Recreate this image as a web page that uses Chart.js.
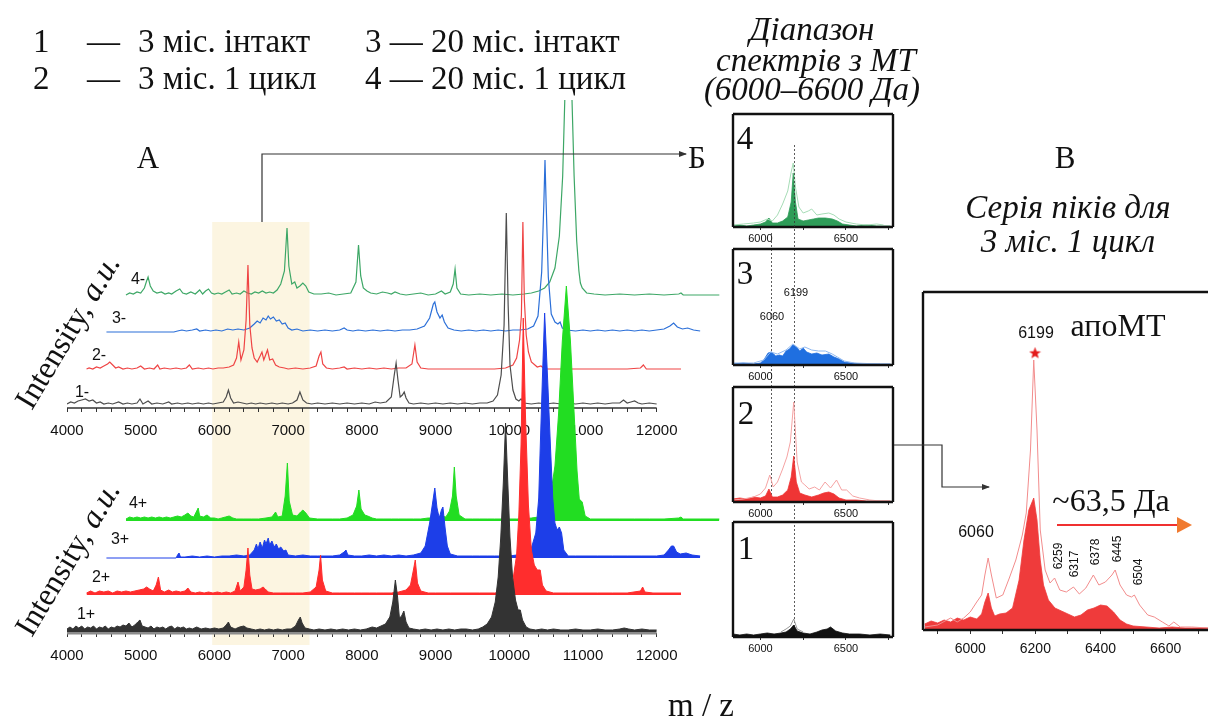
<!DOCTYPE html>
<html>
<head>
<meta charset="utf-8">
<script src="https://cdn.jsdelivr.net/npm/chart.js@4.4.1/dist/chart.umd.min.js"></script>
<style>
  body { margin: 0; width: 1208px; height: 718px; overflow: hidden; background: #fff; position: relative;
         font-family: 'Liberation Serif', 'Times New Roman', serif; color: #111; }
  canvas { position: absolute; left: 0; top: 0; }
  svg { position: absolute; left: 0; top: 0; }
  .c { position: absolute; white-space: nowrap; transform: translate(-50%, -50%); line-height: 1; }
  .l { position: absolute; white-space: nowrap; transform: translateY(-50%); line-height: 1; font-size: 33px; }
  .s { font-family: 'Liberation Sans', Arial, sans-serif; }
  .r { transform: translate(-50%, -50%) rotate(-90deg); }
  .it { font-style: italic; font-size: 33px; }
</style>
</head>
<body>
<canvas id="aMinus" width="1208" height="718"></canvas>
<canvas id="aPlus" width="1208" height="718"></canvas>
<canvas id="b4" width="1208" height="718"></canvas>
<canvas id="b3" width="1208" height="718"></canvas>
<canvas id="b2" width="1208" height="718"></canvas>
<canvas id="b1" width="1208" height="718"></canvas>
<canvas id="v" width="1208" height="718"></canvas>

<svg width="1208" height="718">
  <defs>
    <marker id="ah" markerWidth="8" markerHeight="6" refX="7" refY="3" orient="auto" markerUnits="userSpaceOnUse">
      <path d="M0,0 L8,3 L0,6 z" fill="#333"></path>
    </marker>
  </defs>
  <polyline points="262,222 262,154 686,154" fill="none" stroke="#333" stroke-width="1.2" marker-end="url(#ah)"></polyline>
  <polyline points="894,445 942,445 942,487 989,487" fill="none" stroke="#333" stroke-width="1.2" marker-end="url(#ah)"></polyline>
  <line x1="1057" y1="525" x2="1178" y2="525" stroke="#f03030" stroke-width="2"></line>
  <polygon points="1177,517 1192,525 1177,533" fill="#f07a30"></polygon>
</svg>

<!-- legend -->
<div class="l" style="left:33px;top:41px">1</div>
<div class="l" style="left:87px;top:41px">—</div>
<div class="l" style="left:138px;top:41px">3 міс. інтакт</div>
<div class="l" style="left:365px;top:41px">3 — 20 міс. інтакт</div>
<div class="l" style="left:33px;top:78px">2</div>
<div class="l" style="left:87px;top:78px">—</div>
<div class="l" style="left:138px;top:78px">3 міс. 1 цикл</div>
<div class="l" style="left:365px;top:78px">4 — 20 міс. 1 цикл</div>

<!-- panel A -->
<div class="c" style="left:148px;top:157px;font-size:31px">А</div>
<div class="c" style="left:697px;top:157px;font-size:31px">Б</div>
<div class="c" style="left:67px;top:331px;font-size:32px;transform:translate(-50%,-50%) rotate(-59deg)">Intensity, <i>a.u.</i></div>
<div class="c" style="left:67px;top:558px;font-size:32px;transform:translate(-50%,-50%) rotate(-59deg)">Intensity, <i>a.u.</i></div>
<div class="c s" style="left:138px;top:279px;font-size:16px">4-</div>
<div class="c s" style="left:119px;top:318px;font-size:16px">3-</div>
<div class="c s" style="left:99px;top:355px;font-size:16px">2-</div>
<div class="c s" style="left:82px;top:392px;font-size:16px">1-</div>
<div class="c s" style="left:138px;top:503px;font-size:16px">4+</div>
<div class="c s" style="left:120px;top:539px;font-size:16px">3+</div>
<div class="c s" style="left:101px;top:577px;font-size:16px">2+</div>
<div class="c s" style="left:86px;top:614px;font-size:16px">1+</div>
<div class="c" style="left:701px;top:705px;font-size:33px">m / z</div>

<!-- panel B -->
<div class="c it" style="left:812px;top:29px">Діапазон</div>
<div class="c it" style="left:816px;top:60px">спектрів з МТ</div>
<div class="c it" style="left:812px;top:89px">(6000–6600 Да)</div>
<div class="c" style="left:745px;top:138px;font-size:33px">4</div>
<div class="c" style="left:745px;top:273px;font-size:33px">3</div>
<div class="c" style="left:746px;top:413px;font-size:33px">2</div>
<div class="c" style="left:746px;top:548px;font-size:33px">1</div>
<div class="c s" style="left:796px;top:292px;font-size:11px">6199</div>
<div class="c s" style="left:772px;top:316px;font-size:11px">6060</div>

<!-- panel V -->
<div class="c" style="left:1065px;top:157px;font-size:31px">В</div>
<div class="c it" style="left:1068px;top:207px">Серія піків для</div>
<div class="c it" style="left:1068px;top:241px">3 міс. 1 цикл</div>
<div class="c s" style="left:1036px;top:333px;font-size:16px">6199</div>
<div class="c" style="left:1118px;top:325px;font-size:32px">апоМТ</div>
<div class="c" style="left:1111px;top:500px;font-size:32px">~63,5 Да</div>
<div class="c s" style="left:976px;top:532px;font-size:16px">6060</div>
<div class="c s r" style="left:1058px;top:556px;font-size:12px">6259</div>
<div class="c s r" style="left:1074px;top:564px;font-size:12px">6317</div>
<div class="c s r" style="left:1095px;top:552px;font-size:12px">6378</div>
<div class="c s r" style="left:1117px;top:549px;font-size:12px">6445</div>
<div class="c s r" style="left:1138px;top:572px;font-size:12px">6504</div>

<script>
// ---- panel A, line spectra (1- .. 4-), [m/z, intensity] ----
const specMinus1 = [[4000,1],[4050,3],[4100,2],[4150,4],[4200,5],[4250,6],[4300,4],[4350,5],[4400,2],[4450,3],[4500,1],[4560,2],[4620,1],[4700,3],[4760,1],[4820,2],[4880,1],[4950,2],[4990,6],[5030,1],[5100,4],[5150,1],[5220,2],[5300,1],[5380,3],[5420,1],[5500,2],[5560,1],[5640,2],[5700,1],[5780,2],[5850,1],[5920,2],[5980,1],[6050,2],[6120,3],[6160,8],[6190,15],[6220,7],[6260,2],[6320,3],[6380,2],[6440,1],[6500,2],[6560,1],[6620,2],[6700,1],[6780,2],[6850,1],[6920,2],[7000,1],[7060,2],[7120,5],[7160,13],[7200,5],[7250,2],[7320,1],[7400,2],[7500,1],[7600,2],[7700,1],[7800,2],[7900,1],[8000,2],[8100,1],[8180,3],[8250,2],[8330,3],[8400,8],[8440,30],[8465,42],[8490,25],[8520,8],[8550,10],[8575,13],[8600,7],[8640,2],[8700,1],[8800,2],[8900,1],[9000,2],[9100,1],[9200,2],[9300,1],[9400,2],[9500,1],[9600,2],[9700,2],[9780,4],[9840,10],[9890,30],[9930,80],[9960,192],[9985,100],[10010,40],[10050,15],[10090,6],[10130,4],[10160,6],[10200,2],[10300,1],[10400,2],[10500,1],[10600,2],[10700,1],[10800,2],[10900,1],[11000,2],[11100,1],[11200,2],[11300,1],[11400,2],[11500,2],[11550,5],[11600,2],[11650,3],[11700,4],[11750,2],[11800,1],[11900,2],[12000,1]];
const specMinus2 = [[4265,1],[4300,2],[4350,1],[4400,3],[4450,2],[4500,4],[4550,6],[4580,8],[4620,5],[4660,2],[4700,3],[4760,1],[4820,2],[4880,1],[4950,2],[5000,4],[5050,1],[5120,2],[5180,1],[5230,5],[5260,1],[5320,2],[5400,1],[5480,2],[5550,1],[5620,2],[5660,5],[5700,1],[5780,2],[5850,1],[5920,2],[5980,1],[6050,2],[6120,2],[6200,3],[6260,5],[6300,12],[6330,28],[6360,10],[6400,20],[6430,50],[6455,105],[6480,45],[6510,22],[6540,12],[6580,8],[6620,14],[6645,18],[6670,10],[6700,16],[6720,20],[6750,10],[6790,11],[6830,5],[6880,3],[6950,2],[7000,1],[7100,2],[7200,1],[7300,2],[7380,4],[7420,14],[7445,18],[7470,6],[7520,2],[7600,1],[7700,2],[7760,3],[7800,1],[7900,2],[8000,1],[8100,2],[8200,1],[8300,2],[8400,1],[8500,2],[8600,2],[8680,6],[8720,25],[8750,8],[8800,2],[8900,1],[9000,1],[9200,1],[9400,1],[9600,1],[9800,1],[9950,2],[10050,5],[10100,12],[10140,30],[10165,55],[10185,148],[10205,70],[10230,35],[10260,18],[10300,8],[10380,3],[10430,4],[10480,1],[10600,1],[10800,1],[11000,1],[11200,1],[11400,1],[11600,1],[11780,2],[11820,5],[11860,1],[12000,1],[12200,1],[12330,1]];
const specMinus3 = [[4535,0],[5450,0],[5500,1],[5560,2],[5620,1],[5700,2],[5760,3],[5800,1],[5880,2],[5950,1],[6020,2],[6100,1],[6180,3],[6250,2],[6320,3],[6400,2],[6480,4],[6540,8],[6580,11],[6620,9],[6660,14],[6700,12],[6730,16],[6760,13],[6800,15],[6840,11],[6880,12],[6920,8],[6960,9],[7000,4],[7050,2],[7120,3],[7200,1],[7300,2],[7400,1],[7500,2],[7600,1],[7700,2],[7760,4],[7800,2],[7880,1],[7950,2],[8050,1],[8150,2],[8250,1],[8350,2],[8450,1],[8550,2],[8650,2],[8750,3],[8850,6],[8920,14],[8970,28],[8990,30],[9020,20],[9060,14],[9090,17],[9120,10],[9170,4],[9250,2],[9350,1],[9450,2],[9550,1],[9650,2],[9750,1],[9850,2],[9950,1],[10050,2],[10150,2],[10250,3],[10330,6],[10390,16],[10440,60],[10470,130],[10485,172],[10500,130],[10530,55],[10570,18],[10620,10],[10660,8],[10690,10],[10720,4],[10780,2],[10900,1],[11000,2],[11100,1],[11200,2],[11300,1],[11400,2],[11500,1],[11600,2],[11700,1],[11800,2],[11900,1],[12000,2],[12100,3],[12180,6],[12230,9],[12280,5],[12350,3],[12420,4],[12500,2],[12590,1]];
const specMinus4 = [[4800,1],[4850,3],[4900,2],[4950,4],[5000,3],[5050,8],[5080,15],[5100,19],[5130,10],[5170,5],[5220,3],[5280,4],[5330,2],[5380,3],[5420,2],[5480,5],[5530,7],[5570,3],[5620,2],[5680,4],[5740,2],[5800,6],[5840,2],[5880,5],[5920,7],[5960,3],[6000,2],[6050,3],[6100,2],[6150,4],[6200,6],[6240,2],[6300,3],[6350,2],[6400,5],[6450,3],[6500,2],[6550,4],[6600,3],[6650,5],[6700,3],[6750,4],[6800,3],[6850,6],[6900,12],[6950,25],[6985,68],[7010,30],[7050,12],[7090,14],[7120,8],[7160,10],[7200,13],[7240,10],[7280,4],[7350,2],[7450,2],[7550,3],[7650,1],[7750,2],[7850,3],[7920,14],[7955,51],[7985,20],[8020,8],[8070,5],[8120,3],[8200,2],[8280,4],[8350,3],[8400,2],[8450,4],[8520,2],[8600,1],[8700,2],[8800,3],[8900,1],[9000,2],[9080,5],[9130,2],[9200,4],[9240,12],[9265,27],[9290,8],[9340,2],[9450,1],[9600,2],[9750,1],[9900,2],[10050,1],[10200,2],[10300,3],[10400,5],[10480,8],[10550,14],[10620,28],[10680,60],[10725,120],[10755,200],[10770,260],[10835,260],[10850,200],[10880,120],[10915,55],[10945,25],[10965,13],[10990,8],[11050,3],[11150,2],[11300,1],[11500,2],[11700,1],[11900,2],[12100,1],[12300,2],[12330,3],[12360,1],[12600,1],[12850,1]];

// ---- panel A, filled spectra (1+ .. 4+) ----
const specPlus1 = [[4000,3],[4040,5],[4080,3],[4120,6],[4160,4],[4200,6],[4240,3],[4280,5],[4320,4],[4360,6],[4400,3],[4440,5],[4480,4],[4520,6],[4560,3],[4600,5],[4640,4],[4680,6],[4720,5],[4760,7],[4800,6],[4840,9],[4880,5],[4920,7],[4960,10],[4990,12],[5020,6],[5060,5],[5100,4],[5140,6],[5180,3],[5220,5],[5260,4],[5300,5],[5340,3],[5380,5],[5420,6],[5460,3],[5500,5],[5540,4],[5580,5],[5620,3],[5660,4],[5700,3],[5760,5],[5820,3],[5880,4],[5940,3],[6000,4],[6060,3],[6120,4],[6160,7],[6190,10],[6220,5],[6280,3],[6340,5],[6400,6],[6440,4],[6500,3],[6560,2],[6620,3],[6680,2],[6740,3],[6800,2],[6860,3],[6920,2],[6980,3],[7040,3],[7100,6],[7140,12],[7165,15],[7190,9],[7230,4],[7290,3],[7350,2],[7420,3],[7500,2],[7580,3],[7660,2],[7740,3],[7820,2],[7900,3],[7980,2],[8060,3],[8140,5],[8200,4],[8260,6],[8320,8],[8380,15],[8420,30],[8455,52],[8485,35],[8510,14],[8540,16],[8570,21],[8600,10],[8640,4],[8700,3],[8780,2],[8860,3],[8940,2],[9020,3],[9100,2],[9180,3],[9260,2],[9340,3],[9420,3],[9500,2],[9580,3],[9640,5],[9700,8],[9760,15],[9810,30],[9850,55],[9885,95],[9920,150],[9950,209],[9980,150],[10010,95],[10045,55],[10085,32],[10120,22],[10150,22],[10180,12],[10230,5],[10280,3],[10360,2],[10440,3],[10520,2],[10600,3],[10700,2],[10800,2],[10900,3],[11000,2],[11100,2],[11200,3],[11300,2],[11400,2],[11500,3],[11560,4],[11620,3],[11700,2],[11800,3],[11900,2],[12000,2]];
const specPlus2 = [[4265,2],[4320,4],[4380,2],[4440,4],[4500,3],[4560,4],[4620,2],[4680,4],[4740,3],[4800,4],[4860,3],[4920,4],[4980,5],[5040,6],[5080,8],[5120,6],[5170,4],[5210,10],[5240,18],[5270,5],[5320,3],[5380,5],[5430,3],[5480,4],[5540,3],[5600,4],[5640,7],[5680,3],[5740,2],[5800,3],[5860,2],[5920,3],[5980,2],[6040,3],[6100,2],[6160,3],[6220,2],[6280,4],[6320,13],[6350,4],[6400,8],[6430,25],[6455,47],[6480,20],[6510,6],[6560,5],[6620,6],[6660,8],[6690,6],[6730,3],[6800,2],[6900,2],[7000,2],[7100,2],[7200,2],[7300,3],[7380,8],[7420,25],[7440,40],[7465,15],[7510,4],[7600,2],[7700,2],[7800,2],[7900,2],[8000,2],[8100,2],[8200,2],[8300,2],[8400,2],[8500,3],[8600,5],[8660,10],[8700,25],[8725,35],[8755,12],[8800,4],[8900,2],[9000,2],[9200,2],[9400,2],[9600,2],[9800,2],[9950,3],[10000,6],[10050,15],[10100,40],[10130,80],[10160,150],[10190,277],[10220,180],[10260,90],[10300,45],[10340,30],[10380,25],[10420,25],[10450,10],[10500,4],[10600,2],[10800,2],[11000,2],[11200,2],[11400,2],[11600,2],[11780,4],[11810,8],[11840,3],[11950,2],[12100,2],[12330,2]];
const specPlus3 = [[4535,0],[5480,0],[5500,3],[5520,5],[5540,1],[5600,1],[5700,2],[5800,1],[5900,2],[6000,1],[6100,2],[6200,2],[6300,3],[6400,2],[6480,3],[6540,8],[6570,14],[6590,9],[6620,16],[6650,10],[6680,18],[6700,14],[6730,20],[6750,13],[6780,17],[6810,11],[6840,14],[6870,9],[6900,11],[6940,7],[6970,8],[7000,3],[7100,2],[7200,3],[7300,2],[7400,2],[7500,2],[7600,2],[7700,3],[7760,6],[7785,8],[7810,3],[7900,2],[8000,2],[8100,3],[8200,2],[8300,3],[8400,2],[8500,3],[8600,2],[8700,3],[8800,5],[8860,12],[8920,35],[8960,55],[8990,70],[9020,50],[9050,40],[9080,48],[9100,51],[9130,30],[9160,12],[9200,4],[9300,2],[9400,2],[9500,2],[9600,2],[9700,2],[9800,2],[9900,2],[10000,2],[10100,3],[10200,5],[10300,10],[10360,25],[10400,60],[10420,110],[10450,180],[10480,245],[10520,180],[10560,110],[10590,60],[10620,35],[10650,28],[10680,31],[10710,25],[10740,8],[10800,2],[10900,2],[11000,2],[11200,2],[11400,2],[11600,2],[11800,2],[12000,2],[12100,3],[12160,8],[12200,12],[12230,12],[12270,6],[12320,4],[12400,5],[12480,3],[12590,2]];
const specPlus4 = [[4800,2],[4850,4],[4900,3],[4950,4],[5000,3],[5050,4],[5100,3],[5150,4],[5200,3],[5250,4],[5300,3],[5350,4],[5400,3],[5450,4],[5500,5],[5550,4],[5600,6],[5640,8],[5680,5],[5720,4],[5760,10],[5780,13],[5800,5],[5850,4],[5900,6],[5950,3],[6000,3],[6050,2],[6100,3],[6150,4],[6200,5],[6250,3],[6300,2],[6400,2],[6500,2],[6600,2],[6700,3],[6780,4],[6830,9],[6860,4],[6920,5],[6960,25],[6990,58],[7015,20],[7060,6],[7120,5],[7170,9],[7200,11],[7240,8],[7290,3],[7400,2],[7500,2],[7600,2],[7700,2],[7800,3],[7880,6],[7930,15],[7960,31],[7990,12],[8040,6],[8080,5],[8140,3],[8200,2],[8300,2],[8400,2],[8500,2],[8600,2],[8700,2],[8800,2],[8900,3],[9000,3],[9080,5],[9140,4],[9190,10],[9230,25],[9255,54],[9280,25],[9320,6],[9400,2],[9500,2],[9600,2],[9700,2],[9800,2],[9900,2],[10000,2],[10100,2],[10200,2],[10300,3],[10400,4],[10480,8],[10560,25],[10620,55],[10670,108],[10720,180],[10775,235],[10830,180],[10880,108],[10920,50],[10950,22],[10990,19],[11030,5],[11100,2],[11300,2],[11500,2],[11700,2],[11900,2],[12100,2],[12300,3],[12330,4],[12360,2],[12600,2],[12850,2]];

// ---- panel Б, 6000-6600 Da windows: filled spectrum + light overlay ----
const zoomFill4 = [[5840,1],[5880,2],[5920,1],[5960,2],[6000,3],[6030,5],[6050,9],[6070,4],[6100,4],[6130,6],[6160,10],[6180,25],[6192,54],[6205,25],[6220,8],[6250,6],[6280,7],[6310,8],[6340,9],[6380,9],[6420,8],[6450,6],[6480,3],[6520,2],[6560,1],[6620,2],[6680,1],[6760,1]];
const zoomLine4 = [[5840,2],[5900,3],[5960,4],[6000,5],[6040,8],[6070,6],[6100,12],[6130,23],[6160,36],[6180,55],[6192,64],[6205,40],[6225,20],[6250,14],[6280,16],[6300,18],[6330,12],[6360,13],[6400,14],[6430,12],[6460,8],[6500,5],[6560,3],[6620,2],[6680,3],[6720,2]];
const zoomFill3 = [[5840,1],[5900,2],[5960,1],[6000,2],[6020,5],[6045,12],[6065,13],[6090,9],[6110,10],[6130,9],[6150,14],[6170,16],[6190,20],[6210,18],[6230,14],[6250,17],[6270,13],[6300,11],[6330,12],[6360,10],[6400,11],[6430,8],[6460,6],[6490,3],[6530,2],[6600,1],[6700,1],[6760,1]];
const zoomLine3 = [[5840,2],[5960,2],[6020,5],[6060,13],[6100,11],[6150,15],[6190,21],[6230,16],[6260,18],[6300,15],[6340,14],[6380,14],[6420,11],[6450,8],[6490,4],[6550,2],[6700,1]];
const zoomFill2 = [[5840,3],[5880,4],[5920,3],[5960,5],[6000,4],[6030,6],[6050,13],[6070,5],[6100,5],[6130,7],[6160,12],[6180,25],[6195,46],[6210,20],[6230,9],[6260,7],[6300,5],[6340,7],[6370,9],[6400,10],[6430,8],[6460,4],[6500,2],[6560,2],[6620,1],[6700,1],[6760,1]];
const zoomLine2 = [[5840,2],[5900,3],[5960,5],[6000,8],[6030,14],[6055,27],[6075,15],[6100,20],[6130,33],[6155,45],[6175,60],[6195,100],[6215,40],[6240,20],[6260,17],[6285,13],[6317,15],[6345,12],[6378,20],[6410,14],[6445,22],[6475,12],[6504,12],[6540,6],[6580,4],[6640,2],[6700,1]];
const zoomFill1 = [[5840,3],[5880,2],[5920,3],[5960,2],[6000,3],[6040,4],[6080,3],[6120,4],[6150,5],[6175,8],[6195,12],[6215,6],[6250,4],[6290,3],[6330,5],[6360,7],[6390,8],[6410,10],[6440,6],[6480,4],[6520,3],[6580,3],[6640,2],[6700,3],[6760,2]];
const zoomLine1 = [[6120,5],[6150,8],[6175,11],[6195,18],[6215,8],[6250,5]];
const markedPeaks = [6060, 6199];

// ---- panel В, 3 міс. 1 цикл ----
const seriesFill = [[5860,6],[5880,9],[5900,7],[5920,10],[5940,8],[5960,12],[5980,10],[6000,13],[6020,11],[6035,16],[6045,28],[6055,37],[6065,22],[6075,14],[6090,16],[6110,17],[6130,22],[6150,50],[6165,90],[6180,120],[6195,132],[6205,110],[6215,70],[6225,45],[6240,30],[6260,22],[6280,19],[6300,16],[6320,13],[6340,15],[6360,20],[6380,22],[6400,25],[6420,24],[6440,18],[6460,10],[6480,6],[6500,4],[6540,3],[6580,2],[6620,3],[6660,2],[6700,2],[6730,2]];
const seriesLine = [[5860,3],[5900,5],[5940,12],[5960,8],[5980,12],[6000,18],[6020,28],[6035,35],[6045,55],[6055,72],[6065,55],[6080,32],[6100,35],[6120,52],[6140,70],[6160,95],[6172,117],[6185,180],[6195,270],[6205,200],[6215,100],[6230,60],[6245,47],[6259,52],[6275,40],[6295,38],[6317,43],[6335,36],[6355,42],[6378,55],[6395,45],[6415,48],[6435,55],[6445,60],[6460,45],[6480,35],[6495,33],[6504,35],[6520,25],[6545,15],[6565,13],[6590,8],[6610,4],[6625,8],[6645,3],[6680,3],[6730,2]];
const apoPeak = [6199, 277];

const W = 1208, H = 718;
const SANS = 'Liberation Sans, Arial, sans-serif';

const pts = (pairs, offset = 0) => pairs.map(([x, y]) => ({ x, y: y + offset }));

// chart area given as [left, top, right, bottom] in page pixels
function makeChart(id, box, xRange, yMax, datasets, axis, plugins = []) {
  return new Chart(document.getElementById(id), {
    type: 'line',
    data: { datasets },
    options: {
      responsive: false,
      animation: false,
      events: [],
      layout: {
        autoPadding: false,
        padding: { left: box[0], top: box[1], right: W - box[2], bottom: H - box[3] - axis.height }
      },
      elements: { point: { radius: 0 }, line: { tension: 0, borderWidth: 1.1 } },
      plugins: { legend: { display: false }, tooltip: { enabled: false } },
      scales: {
        x: {
          type: 'linear',
          min: xRange[0],
          max: xRange[1],
          afterFit: s => { s.height = axis.height; },
          afterBuildTicks: s => { s.ticks = s.ticks.filter(t => t.value <= axis.last); },
          border: { display: false },
          grid: { drawOnChartArea: false, tickLength: axis.tickLength, color: '#333', lineWidth: 1 },
          ticks: {
            stepSize: axis.step,
            autoSkip: false,
            maxRotation: 0,
            includeBounds: false,
            padding: axis.padding,
            color: '#111',
            font: { family: SANS, size: axis.fontSize },
            callback: v => (v % axis.labelEvery === 0 ? String(v) : '')
          }
        },
        y: { display: false, min: 0, max: yMax }
      }
    },
    plugins
  });
}

// ---------- panel A ----------
const axisA = { height: 34, tickLength: 4, padding: 10, fontSize: 15, step: 200, labelEvery: 1000, last: 12000 };
const rangeA = [4000, 12900];
const highlightA = [5970, 7290];

const offsetsMinus = [3, 38, 76, 112];
const colorsMinus = ['#4d4d4d', '#ef4444', '#2b6fd8', '#3da766'];
const offsetsPlus = [1, 38, 75, 112];
const colorsPlus = ['#333333', '#ff2d2d', '#1d3ee8', '#22dd22'];

const axisLine = (color, width) => ({
  id: 'axisLine',
  beforeDatasetsDraw(chart) {
    const { ctx, chartArea, scales } = chart;
    ctx.save();
    ctx.strokeStyle = color;
    ctx.lineWidth = width;
    ctx.beginPath();
    ctx.moveTo(scales.x.getPixelForValue(4000), chartArea.bottom);
    ctx.lineTo(scales.x.getPixelForValue(12000), chartArea.bottom);
    ctx.stroke();
    ctx.restore();
  }
});

const highlightBox = {
  id: 'highlightBox',
  beforeDraw(chart) {
    const { ctx, scales } = chart;
    const x0 = scales.x.getPixelForValue(highlightA[0]);
    const x1 = scales.x.getPixelForValue(highlightA[1]);
    ctx.save();
    ctx.fillStyle = '#fcf5e1';
    ctx.fillRect(x0, 222, x1 - x0, 645 - 222);
    ctx.restore();
  }
};

makeChart('aMinus', [67, 100, 723, 408], rangeA, 308,
  [specMinus1, specMinus2, specMinus3, specMinus4].map((s, i) => ({
    data: pts(s, offsetsMinus[i]),
    borderColor: colorsMinus[i],
    borderWidth: 1.2
  })),
  axisA, [highlightBox, axisLine('#333', 1.3)]);

makeChart('aPlus', [67, 250, 723, 633], rangeA, 383,
  [specPlus1, specPlus2, specPlus3, specPlus4].map((s, i) => ({
    data: pts(s, offsetsPlus[i]),
    borderColor: colorsPlus[i],
    backgroundColor: colorsPlus[i],
    borderWidth: 1,
    fill: { value: offsetsPlus[i] }
  })),
  axisA, [axisLine('#8c8c8c', 3)]);

// ---------- panel Б ----------
const axisB = { height: 20, tickLength: 3, padding: 2, fontSize: 11, step: 250, labelEvery: 500, last: 6770 };
const rangeB = [5840, 6775];

const frame = (sides = 'ltrb') => ({
  id: 'frame',
  afterDatasetsDraw(chart) {
    const { ctx, chartArea: a } = chart;
    ctx.save();
    ctx.strokeStyle = '#111';
    ctx.lineWidth = 2.4;
    ctx.beginPath();
    if (sides.includes('t')) { ctx.moveTo(a.left, a.top); ctx.lineTo(a.right, a.top); }
    if (sides.includes('r')) { ctx.moveTo(a.right, a.top); ctx.lineTo(a.right, a.bottom); }
    if (sides.includes('b')) { ctx.moveTo(a.left, a.bottom); ctx.lineTo(a.right, a.bottom); }
    if (sides.includes('l')) { ctx.moveTo(a.left, a.top); ctx.lineTo(a.left, a.bottom); }
    ctx.stroke();
    ctx.restore();
  }
});

const peakGuides = {
  id: 'peakGuides',
  afterDraw(chart) {
    const { ctx, scales } = chart;
    const spans = [[233, 500], [145, 627]];
    ctx.save();
    ctx.strokeStyle = '#333';
    ctx.lineWidth = 0.8;
    ctx.setLineDash([2, 2]);
    markedPeaks.forEach((m, i) => {
      const x = Math.round(scales.x.getPixelForValue(m)) + 0.5;
      ctx.beginPath();
      ctx.moveTo(x, spans[i][0]);
      ctx.lineTo(x, spans[i][1]);
      ctx.stroke();
    });
    ctx.restore();
  }
};

const boxesB = [
  { id: 'b4', box: [733, 114, 893, 227], fill: zoomFill4, line: zoomLine4, fc: '#2e9c58', lc: '#a6dcb6' },
  { id: 'b3', box: [733, 249, 893, 365], fill: zoomFill3, line: zoomLine3, fc: '#1f6fe0', lc: '#8fb8f0' },
  { id: 'b2', box: [733, 387, 893, 502], fill: zoomFill2, line: zoomLine2, fc: '#ef3535', lc: '#f5a3a3' },
  { id: 'b1', box: [733, 522, 893, 637], fill: zoomFill1, line: zoomLine1, fc: '#111111', lc: '#999999' }
];

boxesB.forEach((b, i) => {
  const plugins = [frame()];
  if (i === 0) plugins.push(peakGuides);
  makeChart(b.id, b.box, rangeB, b.box[3] - b.box[1], [
    { data: pts(b.line), borderColor: b.lc, borderWidth: 1 },
    { data: pts(b.fill), borderColor: b.fc, backgroundColor: b.fc, borderWidth: 0.8, fill: 'origin' }
  ], axisB, plugins);
});

// ---------- panel В ----------
const axisV = { height: 30, tickLength: 4, padding: 7, fontSize: 14, step: 100, labelEvery: 200, last: 6730 };

const starCanvas = document.createElement('canvas');
starCanvas.width = 13;
starCanvas.height = 13;
const sctx = starCanvas.getContext('2d');
sctx.fillStyle = '#e31b1b';
sctx.beginPath();
for (let i = 0; i < 10; i++) {
  const r = i % 2 ? 2.6 : 6.2;
  const a = -Math.PI / 2 + i * Math.PI / 5;
  sctx.lineTo(6.5 + r * Math.cos(a), 6.8 + r * Math.sin(a));
}
sctx.closePath();
sctx.fill();

// the frame is cut by the page edge on the right, as in the source figure
makeChart('v', [923, 292, 1208, 630], [5855, 6730], 338, [
  { data: [{ x: apoPeak[0], y: apoPeak[1] }], showLine: false, pointStyle: starCanvas, pointRadius: 6 },
  { data: pts(seriesLine), borderColor: '#f28c8c', borderWidth: 1 },
  { data: pts(seriesFill), borderColor: '#ef3b3b', backgroundColor: '#ef3b3b', borderWidth: 0.8, fill: 'origin' }
], axisV, [frame('ltb')]);
</script>
</body>
</html>
